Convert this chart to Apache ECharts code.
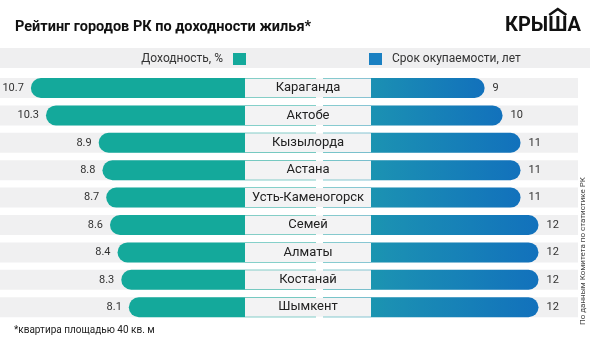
<!DOCTYPE html>
<html>
<head>
<meta charset="utf-8">
<script src="https://cdn.jsdelivr.net/npm/echarts@6/dist/echarts.min.js"></script>
<style>
  html, body { margin: 0; padding: 0; background: #ffffff; }
  #chart { width: 590px; height: 345px; }
</style>
</head>
<body>
<div id="chart"></div>
<script>
// Cities ranked by rental yield
const cities = ['Караганда', 'Актобе', 'Кызылорда', 'Астана', 'Усть-Каменогорск', 'Семей', 'Алматы', 'Костанай', 'Шымкент'];
// Rental yield, %
const yieldPct = [10.7, 10.3, 8.9, 8.8, 8.7, 8.6, 8.4, 8.3, 8.1];
// Payback period, years
const paybackYears = [9, 10, 11, 11, 11, 12, 12, 12, 12];

const yieldName = 'Доходность, %';
const paybackName = 'Срок окупаемости, лет';
const titleText = 'Рейтинг городов РК по доходности жилья*';
const footnoteText = '*квартира площадью 40 кв. м';
const sourceText = 'По данным Комитета по статистике РК';
const logoText = 'КРЫША';

const TEAL = '#14a99b';
const BLUE = '#1a80c2';
const BAND = '#f0f0f1';
const FONT = 'Roboto, "Open Sans", sans-serif';

// place the roof mark over the "Ш" of the logo
const LOGO_FONT = 'bold 20px ' + FONT;
const LOGO_X = 505;
const measure = document.createElement('canvas').getContext('2d');
measure.font = LOGO_FONT;
const roofStart = LOGO_X + measure.measureText(logoText.slice(0, 3)).width;
const roofWidth = measure.measureText(logoText[3]).width;
const roofL = roofStart + 1, roofR = roofStart + roofWidth - 1, roofMid = (roofL + roofR) / 2;

const chart = echarts.init(document.getElementById('chart'), null, { renderer: 'canvas' });

const gridTop = 74.3, gridBottom = 24.1;

chart.setOption({
  animation: false,
  backgroundColor: '#ffffff',
  textStyle: { fontFamily: FONT },
  grid: [
    { left: 0, right: 274, top: gridTop, bottom: gridBottom },
    { left: 323, right: 12, top: gridTop, bottom: gridBottom }
  ],
  xAxis: [
    { gridIndex: 0, type: 'value', inverse: true, min: 3.13, max: 11.52, show: false },
    { gridIndex: 1, type: 'value', min: 0, max: 14.2, show: false }
  ],
  yAxis: [
    { gridIndex: 0, type: 'category', data: cities, inverse: true, show: false },
    {
      gridIndex: 1, type: 'category', data: cities, inverse: true, z: 10,
      axisLine: { show: false }, axisTick: { show: false }, splitLine: { show: false },
      axisLabel: {
        show: true, margin: 15, align: 'center', verticalAlign: 'middle',
        width: 126, height: 19, lineHeight: 19,
        backgroundColor: '#f3f3f4',
        fontFamily: FONT, fontSize: 13, color: '#222222'
      }
    }
  ],
  legend: [
    {
      data: [{ name: yieldName, itemStyle: { color: TEAL } }],
      right: 344, top: 53, padding: 0, align: 'right', icon: 'rect',
      itemWidth: 13, itemHeight: 12, selectedMode: false,
      textStyle: { fontFamily: FONT, fontSize: 12, color: '#333333', padding: [0, 5, 0, 0] }
    },
    {
      data: [{ name: paybackName, itemStyle: { color: BLUE } }],
      left: 369, top: 53, padding: 0, align: 'left', icon: 'rect',
      itemWidth: 13, itemHeight: 12, selectedMode: false,
      textStyle: { fontFamily: FONT, fontSize: 12, color: '#333333', padding: [0, 0, 0, 5] }
    }
  ],
  series: [
    {
      name: yieldName, type: 'bar', xAxisIndex: 0, yAxisIndex: 0,
      data: yieldPct, barWidth: 20,
      showBackground: true, backgroundStyle: { color: BAND },
      itemStyle: { color: TEAL, borderRadius: [10, 0, 0, 10] },
      label: {
        show: true, position: 'left', distance: 7,
        fontFamily: FONT, fontSize: 11, color: '#333333',
        formatter: p => p.value.toFixed(1)
      }
    },
    {
      name: paybackName, type: 'bar', xAxisIndex: 1, yAxisIndex: 1,
      data: paybackYears, barWidth: 20,
      showBackground: true, backgroundStyle: { color: BAND },
      itemStyle: {
        borderRadius: [0, 10, 10, 0],
        color: new echarts.graphic.LinearGradient(0, 0, 1, 0, [
          { offset: 0, color: '#17a3a6' },
          { offset: 0.3, color: '#1b90b3' },
          { offset: 1, color: '#1271bc' }
        ])
      },
      label: {
        show: true, position: 'right', distance: 8,
        fontFamily: FONT, fontSize: 11, color: '#333333'
      }
    }
  ],
  graphic: [
    // legend strip
    { type: 'rect', z: -1, shape: { x: 0, y: 48, width: 590, height: 20 }, style: { fill: '#efeff0' } },
    // title
    { type: 'text', x: 15, y: 27, style: { text: titleText, font: 'bold 14.5px ' + FONT, fill: '#111111', textVerticalAlign: 'middle' } },
    // logo
    { type: 'text', x: LOGO_X, y: 26, style: { text: logoText, font: LOGO_FONT, fill: '#111111', textVerticalAlign: 'middle' } },
    { type: 'polyline', shape: { points: [[roofL, 15], [roofMid, 9], [roofR, 15]] }, style: { stroke: '#111111', lineWidth: 2.5, fill: null } },
    // footnote
    { type: 'text', x: 14, y: 330, style: { text: footnoteText, font: '10px ' + FONT, fill: '#222222', textVerticalAlign: 'middle' } },
    // source, vertical
    { type: 'text', x: 583, y: 251, rotation: Math.PI / 2, style: { text: sourceText, font: '8px ' + FONT, fill: '#444444', textAlign: 'center', textVerticalAlign: 'middle' } }
  ]
});
</script>
</body>
</html>
